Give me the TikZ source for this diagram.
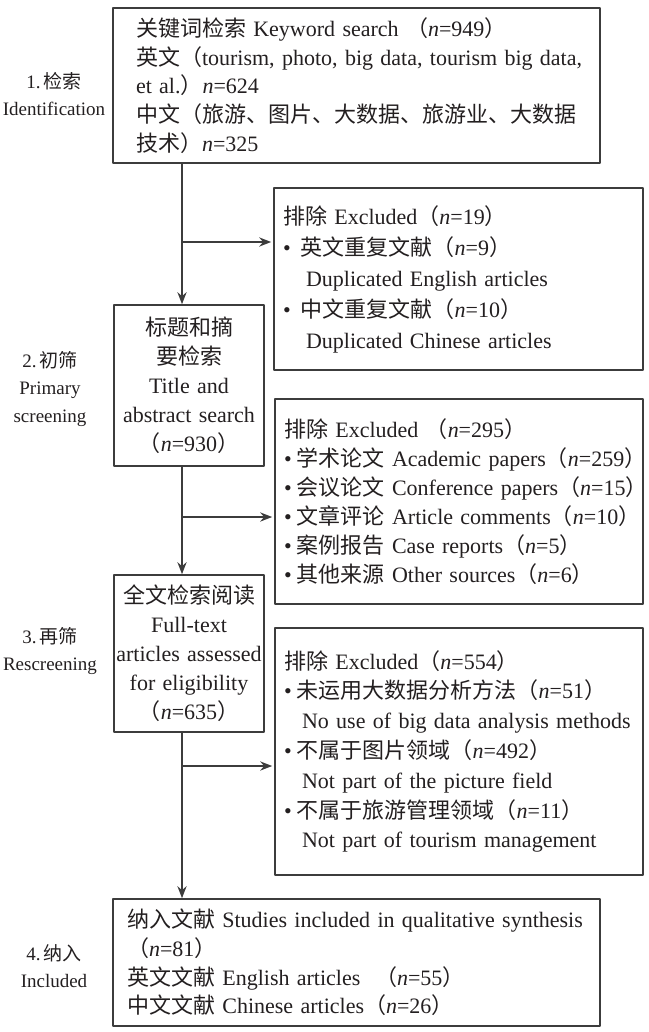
\documentclass[tikz,border=0pt]{standalone}
\usepackage{fontspec}
\setmainfont{Liberation Serif}
\newfontfamily\cjk{Noto Sans CJK SC}
\usetikzlibrary{arrows.meta}
\definecolor{linegray}{HTML}{3C3C3C}
\definecolor{inkblack}{HTML}{231F20}
\newcommand{\zh}[1]{{\cjk #1}}
\newcommand{\cnt}[1]{\zh{（}\textit{n}=#1\zh{）}}
\tikzset{
	box/.style={draw=linegray,line width=0.8pt,text=inkblack,inner ysep=0pt},
	mainbox/.style={box,align=left,font=\fontsize{11}{14.3}\selectfont},
	stagebox/.style={box,align=center,text width=73pt,inner xsep=1pt,
		font=\fontsize{11}{14.5}\selectfont},
	exbox/.style={box,align=left,inner xsep=4.5pt,font=\fontsize{11}{14.5}\selectfont},
	stagelabel/.style={align=center,text=inkblack,font=\fontsize{9.5}{13.75}\selectfont}
}
\begin{document}
\begin{tikzpicture}[line cap=round,line join=round,>={Stealth[length=6pt,width=4.6pt]},
	x=0.5pt,y=-0.5pt]
	\useasboundingbox (0,0) rectangle (648,1032); %khung trang
	% Hộp chính
	\node[mainbox,inner xsep=11.5pt,text width=220.5pt,minimum height=77.5pt] (ident)
	at (356.5,85.5) {\zh{关键词检索} Keyword search \cnt{949}\\
		\mbox{\zh{英文（}tourism, photo, big data, tourism big data,}\\
		et al.\zh{）}\textit{n}=624\\
		\zh{中文（旅游、图片、大数据、旅游业、大数据}\\
		\zh{技术）}\textit{n}=325};
	\node[stagebox,minimum height=80.5pt] (screen) at (189,385.5)
	{\zh{标题和摘}\\ \zh{要检索}\\ Title and\\ abstract search\\ \cnt{930}};
	\node[stagebox,minimum height=78.5pt] (fulltext) at (189,653.5)
	{\zh{全文检索阅读}\\ Full-text\\ \mbox{articles assessed}\\ for eligibility\\ \cnt{635}};
	\node[mainbox,inner xsep=7pt,text width=229.5pt,minimum height=63.5pt] (incl)
	at (356.5,962.5) {\mbox{\zh{纳入文献} Studies included in qualitative synthesis}\\
		\cnt{81}\\
		\zh{英文文献} English articles \ \cnt{55}\\
		\zh{中文文献} Chinese articles\cnt{26}};
	% Hộp loại trừ
	\node[exbox,text width=175.5pt,minimum height=91pt,font=\fontsize{11}{15.5}\selectfont]
	(exdup) at (458.5,279) {\zh{排除} Excluded\cnt{19}\\
		•\hspace{5pt}\zh{英文重复文献}\cnt{9}\\
		\hspace*{11.5pt}Duplicated English articles\\
		•\hspace{5pt}\zh{中文重复文献}\cnt{10}\\
		\hspace*{11.5pt}Duplicated Chinese articles};
	\node[exbox,text width=175pt,minimum height=102.5pt] (exscr) at (459,501.5)
	{\zh{排除} Excluded \cnt{295}\\
		\mbox{•\hspace{2.5pt}\zh{学术论文} Academic papers\cnt{259}}\\
		\mbox{•\hspace{2.5pt}\zh{会议论文} Conference papers\cnt{15}}\\
		\mbox{•\hspace{2.5pt}\zh{文章评论} Article comments\cnt{10}}\\
		•\hspace{2.5pt}\zh{案例报告} Case reports\cnt{5}\\
		•\hspace{2.5pt}\zh{其他来源} Other sources\cnt{6}};
	\node[exbox,text width=175pt,minimum height=123.5pt,font=\fontsize{11}{14.9}\selectfont]
	(exfull) at (459,751.5) {\zh{排除} Excluded\cnt{554}\\
		•\hspace{2.5pt}\zh{未运用大数据分析方法}\cnt{51}\\
		\hspace*{9pt}\mbox{No use of big data analysis methods}\\
		•\hspace{2.5pt}\zh{不属于图片领域}\cnt{492}\\
		\hspace*{9pt}Not part of the picture field\\
		•\hspace{2.5pt}\zh{不属于旅游管理领域}\cnt{11}\\
		\hspace*{9pt}Not part of tourism management};
	% Nhãn giai đoạn
	\node[stagelabel] (lbid) at (54,94) {1.\,\zh{检索}\\ Identification};
	\node[stagelabel] (lbscr) at (50,389) {2.\,\zh{初筛}\\ Primary\\ screening};
	\node[stagelabel] (lbre) at (50,651) {3.\,\zh{再筛}\\ Rescreening};
	\node[stagelabel] (lbinc) at (54,966) {4.\,\zh{纳入}\\ Included};
	% Trục dọc và nhánh
	\coordinate (trunk) at (182,0);
	\coordinate (b1) at (182,242);
	\coordinate (b2) at (182,517);
	\coordinate (b3) at (182,766);
	\draw[->,linegray,line width=0.8pt] (ident.south -| trunk) -- (screen.north -| trunk);
	\draw[->,linegray,line width=0.8pt] (screen.south -| trunk) -- (fulltext.north -| trunk);
	\draw[->,linegray,line width=0.8pt] (fulltext.south -| trunk) -- (incl.north -| trunk);
	\draw[->,linegray,line width=0.8pt,shorten >=1pt] (b1) -- (b1 -| exdup.west);
	\draw[->,linegray,line width=0.8pt,shorten >=1pt] (b2) -- (b2 -| exscr.west);
	\draw[->,linegray,line width=0.8pt,shorten >=1pt] (b3) -- (b3 -| exfull.west);
\end{tikzpicture}
\end{document}
